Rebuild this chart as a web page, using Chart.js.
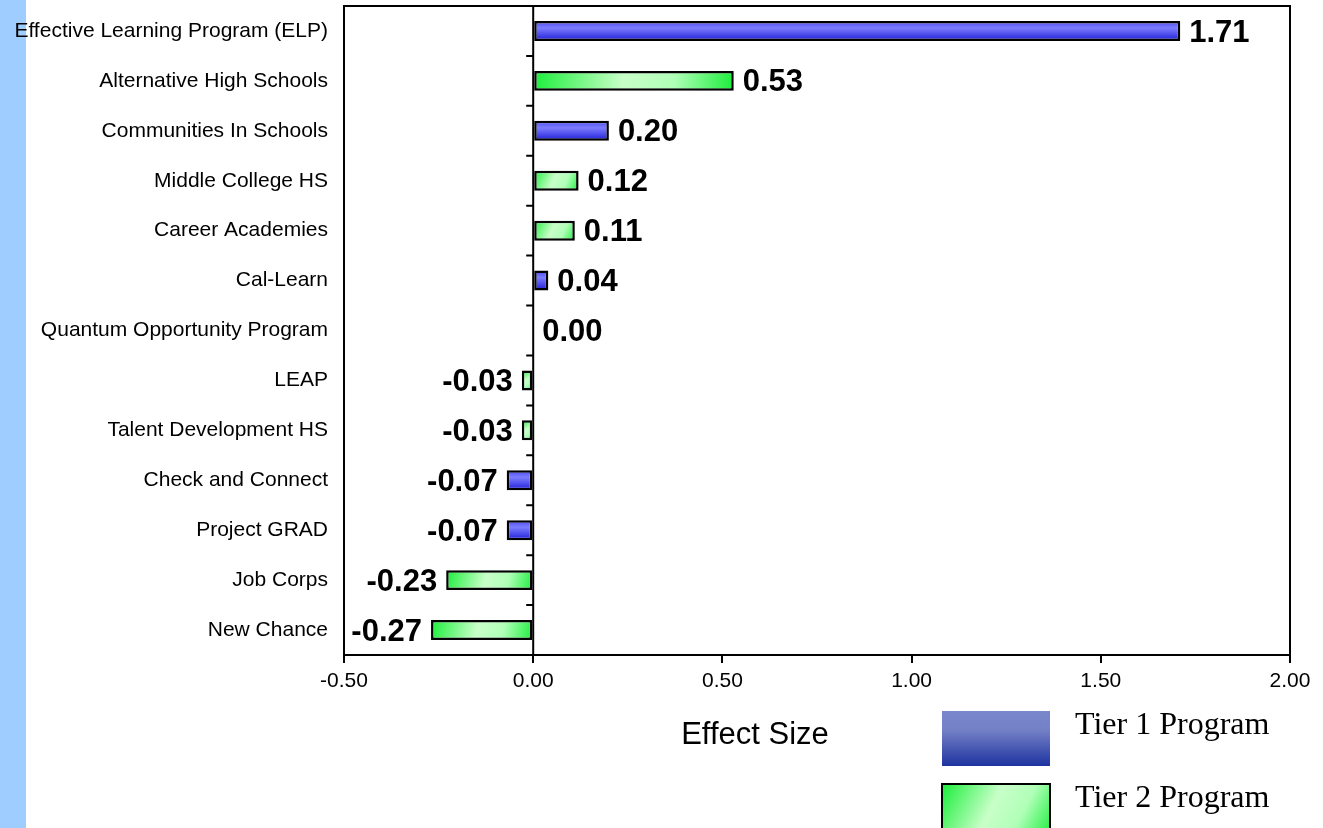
<!DOCTYPE html>
<html>
<head>
<meta charset="utf-8">
<script src="https://cdn.jsdelivr.net/npm/chart.js@4.4.1/dist/chart.umd.min.js"></script>
<style>
  html, body { margin: 0; padding: 0; background: #fff; }
  #wrap { width: 1323px; height: 828px; position: relative; }
</style>
</head>
<body>
<div id="wrap"><canvas id="myChart" width="1323" height="828"></canvas></div>
<script>
// chart data
const programs = [
  'Effective Learning Program (ELP)',
  'Alternative High Schools',
  'Communities In Schools',
  'Middle College HS',
  'Career Academies',
  'Cal-Learn',
  'Quantum Opportunity Program',
  'LEAP',
  'Talent Development HS',
  'Check and Connect',
  'Project GRAD',
  'Job Corps',
  'New Chance'
];
const effectSizes = [1.71, 0.53, 0.20, 0.12, 0.11, 0.04, 0.00, -0.03, -0.03, -0.07, -0.07, -0.23, -0.27];
const tiers = [1, 2, 1, 2, 2, 1, 1, 2, 2, 1, 1, 2, 2];
const legendLabels = ['Tier 1 Program', 'Tier 2 Program'];
const axisTitle = 'Effect Size';

const sans = "'Liberation Sans', Arial, sans-serif";
const serif = "'Liberation Serif', 'Times New Roman', serif";

function blueGrad(c, x0, y0, x1, y1) {
  const g = c.createLinearGradient(0, y0, 0, y1);
  g.addColorStop(0, '#4848f4');
  g.addColorStop(0.35, '#7c7cff');
  g.addColorStop(1, '#1c1cd8');
  return g;
}
function greenGrad(c, x0, y0, x1, y1) {
  const g = c.createLinearGradient(x0, y0, x1, y1);
  g.addColorStop(0, '#1aee3a');
  g.addColorStop(0.45, '#c8ffc8');
  g.addColorStop(0.7, '#b0ffb8');
  g.addColorStop(1, '#1aee3a');
  return g;
}

function barFill(context) {
  const chart = context.chart;
  if (!chart.chartArea || context.type !== 'data') return '#6666ff';
  const xs = chart.scales.x, ys = chart.scales.y;
  const v = context.raw;
  const a = xs.getPixelForValue(0), b = xs.getPixelForValue(v);
  const yc = ys.getPixelForValue(context.dataIndex);
  const h = 10;
  const x0 = Math.min(a, b), x1 = Math.max(a, b) + 0.01;
  return tiers[context.dataIndex] === 1
    ? blueGrad(chart.ctx, x0, yc - h, x1, yc + h)
    : greenGrad(chart.ctx, x0, yc - h, x1, yc + h);
}

const decorations = {
  id: 'decorations',
  beforeDraw(chart) {
    const c = chart.ctx;
    c.save();
    c.fillStyle = '#9fcdff';
    c.fillRect(0, 0, 26, chart.height);
    c.restore();
  },
  afterDatasetsDraw(chart) {
    const c = chart.ctx;
    const area = chart.chartArea;
    const xs = chart.scales.x;
    const zero = xs.getPixelForValue(0);
    c.save();
    // frame
    c.strokeStyle = '#000';
    c.lineWidth = 2;
    c.strokeRect(area.left, area.top, area.right - area.left, area.bottom - area.top);
    // zero line with category tick marks
    c.beginPath();
    c.moveTo(zero, area.top);
    c.lineTo(zero, area.bottom);
    const band = (area.bottom - area.top) / programs.length;
    for (let i = 0; i <= programs.length; i++) {
      const y = area.top + band * i;
      c.moveTo(zero - 7, y);
      c.lineTo(zero, y);
    }
    c.stroke();

    // value labels
    const meta = chart.getDatasetMeta(0);
    c.font = 'bold 31px ' + sans;
    c.fillStyle = '#000';
    c.textBaseline = 'middle';
    meta.data.forEach((bar, i) => {
      const v = effectSizes[i];
      const txt = v.toFixed(2);
      if (v >= 0) {
        c.textAlign = 'left';
        c.fillText(txt, bar.x + 9, bar.y + 2);
      } else {
        c.textAlign = 'right';
        c.fillText(txt, bar.x - 9, bar.y + 2);
      }
    });

    // axis title
    c.font = '31px ' + sans;
    c.textAlign = 'center';
    c.fillText(axisTitle, 755, 735);

    // legend
    const bx = 942, bw = 108, bh = 55;
    const boxes = [711, 784];
    boxes.forEach((by, k) => {
      if (k === 0) {
        const g = c.createLinearGradient(0, by, 0, by + bh);
        g.addColorStop(0, '#7b87cb');
        g.addColorStop(0.35, '#7480c6');
        g.addColorStop(1, '#1e33a0');
        c.fillStyle = g;
        c.fillRect(bx, by, bw, bh);
      } else {
        c.fillStyle = greenGrad(c, bx, by, bx + bw, by + bh);
        c.fillRect(bx, by, bw, bh);
        c.lineWidth = 2;
        c.strokeStyle = '#000';
        c.strokeRect(bx, by, bw, bh);
      }
      c.fillStyle = '#000';
      c.font = '32px ' + serif;
      c.textAlign = 'left';
      c.fillText(legendLabels[k], 1075, by + 15);
    });
    c.restore();
  }
};

const ctx = document.getElementById('myChart');

new Chart(ctx, {
  type: 'bar',
  data: {
    labels: programs,
    datasets: [{
      data: effectSizes,
      backgroundColor: barFill,
      borderColor: '#000',
      borderWidth: (context) => (context.raw === 0 ? 0 : 2.5),
      borderSkipped: false,
      barPercentage: 0.4,
      categoryPercentage: 1.0
    }]
  },
  options: {
    indexAxis: 'y',
    responsive: false,
    animation: false,
    layout: {
      padding: { top: 6, right: 33, left: 0, bottom: 0 }
    },
    scales: {
      x: {
        min: -0.5,
        max: 2.0,
        afterFit: (scale) => {
          scale.height = 173;
          scale.paddingLeft = 0;
          scale.paddingRight = 0;
        },
        ticks: {
          stepSize: 0.5,
          padding: 6,
          color: '#000',
          font: { size: 21, family: sans },
          callback: (v) => Number(v).toFixed(2)
        },
        grid: {
          drawOnChartArea: false,
          drawTicks: true,
          tickLength: 8,
          color: '#000',
          lineWidth: 2
        },
        border: { display: false }
      },
      y: {
        afterFit: (scale) => {
          scale.width = 344;
          scale.paddingTop = 0;
          scale.paddingBottom = 0;
        },
        ticks: {
          padding: 8,
          color: '#000',
          font: { size: 21, family: sans },
          autoSkip: false
        },
        grid: { display: false },
        border: { display: false }
      }
    },
    plugins: {
      legend: { display: false },
      tooltip: { enabled: false },
      title: { display: false }
    }
  },
  plugins: [decorations]
});
</script>
</body>
</html>
